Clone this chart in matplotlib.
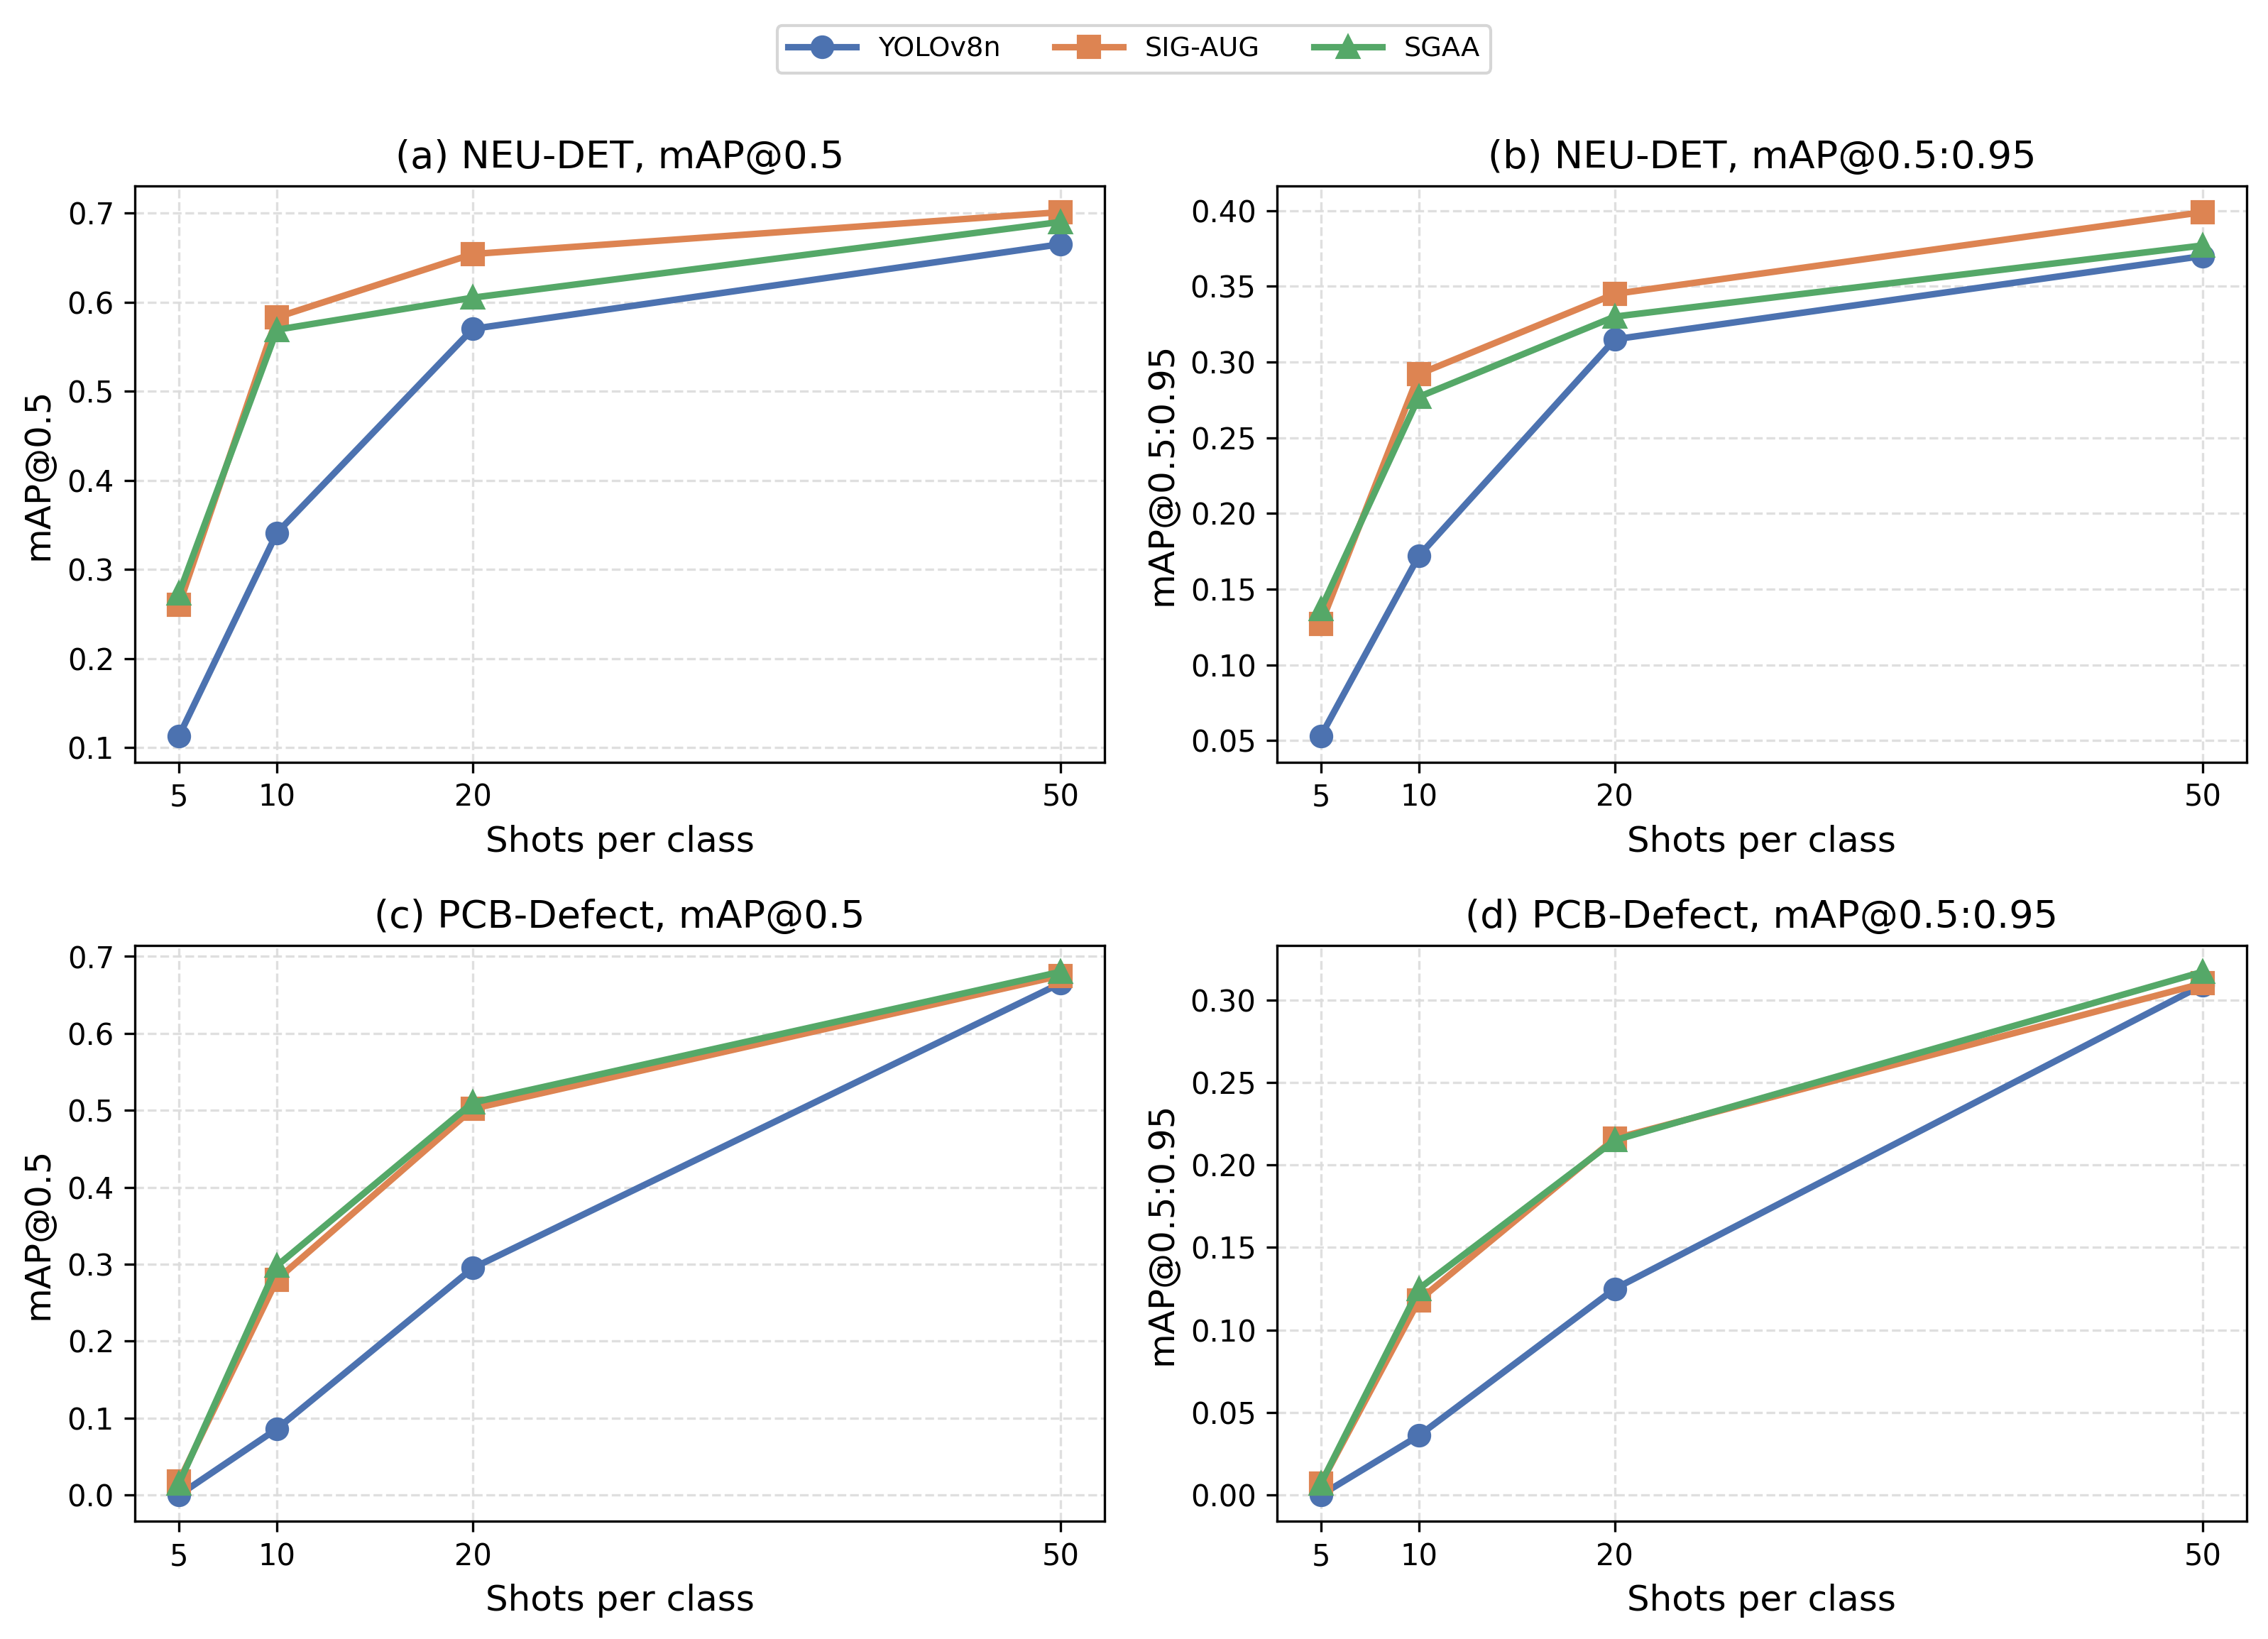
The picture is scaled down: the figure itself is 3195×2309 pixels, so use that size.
import matplotlib
matplotlib.use("Agg")
import matplotlib.pyplot as plt

shots = [5, 10, 20, 50]
methods = ["YOLOv8n", "SIG-AUG", "SGAA"]

neu_map50_yolo = [0.113, 0.341, 0.570, 0.665]
neu_map50_sig = [0.260, 0.583, 0.654, 0.701]
neu_map50_sgaa = [0.273, 0.569, 0.605, 0.690]

neu_map5095_yolo = [0.053, 0.172, 0.315, 0.370]
neu_map5095_sig = [0.127, 0.292, 0.345, 0.399]
neu_map5095_sgaa = [0.137, 0.277, 0.330, 0.377]

pcb_map50_yolo = [0.000, 0.086, 0.295, 0.665]
pcb_map50_sig = [0.018, 0.280, 0.502, 0.675]
pcb_map50_sgaa = [0.015, 0.298, 0.510, 0.680]

pcb_map5095_yolo = [0.000, 0.036, 0.125, 0.309]
pcb_map5095_sig = [0.007, 0.118, 0.216, 0.310]
pcb_map5095_sgaa = [0.007, 0.125, 0.215, 0.317]

titles = ["(a) NEU-DET, mAP@0.5", "(b) NEU-DET, mAP@0.5:0.95",
          "(c) PCB-Defect, mAP@0.5", "(d) PCB-Defect, mAP@0.5:0.95"]
ylabels = ["mAP@0.5", "mAP@0.5:0.95", "mAP@0.5", "mAP@0.5:0.95"]
panels = [
    [neu_map50_yolo, neu_map50_sig, neu_map50_sgaa],
    [neu_map5095_yolo, neu_map5095_sig, neu_map5095_sgaa],
    [pcb_map50_yolo, pcb_map50_sig, pcb_map50_sgaa],
    [pcb_map5095_yolo, pcb_map5095_sig, pcb_map5095_sgaa],
]

colors = ["#4C72B0", "#DD8452", "#55A868"]
markers = ["o", "s", "^"]

fig = plt.figure(figsize=(10.65, 7.697), dpi=300)
positions = [
    [0.0595, 0.535, 0.4275, 0.3515],
    [0.563, 0.535, 0.4276, 0.3515],
    [0.0595, 0.0719, 0.4275, 0.3511],
    [0.563, 0.0719, 0.4276, 0.3511],
]

handles = None
for i, pos in enumerate(positions):
    ax = fig.add_axes(pos)
    hs = []
    for j, series in enumerate(panels[i]):
        h, = ax.plot(shots, series, color=colors[j], marker=markers[j],
                     linewidth=2.2, markersize=7, label=methods[j])
        hs.append(h)
    if handles is None:
        handles = hs
    ax.set_title(titles[i], fontsize=13)
    ax.set_xlabel("Shots per class", fontsize=12)
    ax.set_ylabel(ylabels[i], fontsize=12)
    ax.set_xticks(shots)
    ax.tick_params(labelsize=10)
    ax.grid(True, linestyle="--", color="#dcdcdc", linewidth=0.8, alpha=0.9)

fig.legend(handles, methods, loc="center", ncol=3,
           bbox_to_anchor=(0.5, 0.970), fontsize=9.2, frameon=True,
           handlelength=2.5, columnspacing=2.0)

fig.savefig("out.png", dpi=300)
